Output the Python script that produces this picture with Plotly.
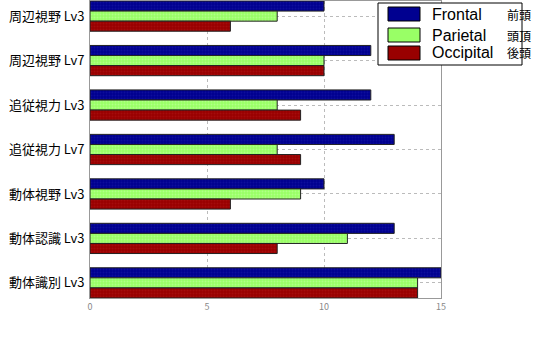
import plotly.graph_objects as go

categories = ["周辺視野 Lv3", "周辺視野 Lv7", "追従視力 Lv3", "追従視力 Lv7",
              "動体視野 Lv3", "動体認識 Lv3", "動体識別 Lv3"]
frontal = [10, 12, 12, 13, 10, 13, 15]
parietal = [8, 10, 8, 8, 9, 11, 14]
occipital = [6, 10, 9, 9, 6, 8, 14]
series_names = ["Frontal", "Parietal", "Occipital"]
series_jp = ["前頭", "頭頂", "後頭"]
colors = ["#000090", "#99FF66", "#990000"]
pattern_colors = ["#1a1aa8", "#c8ffa8", "#b01818"]
x_ticks = [0, 5, 10, 15]

FONT = "Noto Sans CJK JP"
LATIN = "Liberation Sans"

fig = go.Figure()
for name, vals, col, pc in zip(series_names, [frontal, parietal, occipital], colors, pattern_colors):
    fig.add_trace(go.Bar(
        y=categories, x=vals, name=name, orientation="h",
        marker=dict(color=col, line=dict(color="#222222", width=1),
                    pattern=dict(shape=".", fgcolor=pc, size=3, solidity=0.3)),
        showlegend=False,
    ))

fig.update_layout(
    width=538, height=338,
    margin=dict(l=90, r=97, t=1, b=40),
    paper_bgcolor="white", plot_bgcolor="white",
    barmode="group", bargap=0.32, bargroupgap=0,
    font=dict(family=FONT),
)
fig.update_xaxes(range=[0, 15], tickvals=x_ticks, showgrid=True,
                 gridcolor="#bbbbbb", griddash="dot", gridwidth=1,
                 zeroline=False, showline=True, linecolor="#999999", mirror=True,
                 ticks="", tickfont=dict(size=9, color="#888888"))
fig.update_yaxes(range=[6.34, -0.34], showgrid=True, gridcolor="#bbbbbb",
                 griddash="dot", showline=True, linecolor="#999999", mirror=True,
                 ticks="", tickfont=dict(size=13, color="black"), ticklabelstandoff=2)

# custom legend
def px2x(px):
    return (px - 90) / 351.0

def px2y(py):
    return (298 - py) / 297.0

fig.add_shape(type="rect", xref="paper", yref="paper",
              x0=px2x(378), x1=px2x(522), y0=px2y(65), y1=px2y(3),
              line=dict(color="black", width=1), fillcolor="white", layer="above")
rows = [(7, 21), (28, 42), (46, 60)]
for (y0, y1), name, jp, col in zip(rows, series_names, series_jp, colors):
    fig.add_shape(type="rect", xref="paper", yref="paper",
                  x0=px2x(388), x1=px2x(420), y0=px2y(y1), y1=px2y(y0),
                  line=dict(color="black", width=1), fillcolor=col, layer="above")
    yc = px2y((y0 + y1) / 2)
    fig.add_annotation(xref="paper", yref="paper", x=px2x(430), y=yc,
                       text=name, showarrow=False, xanchor="left", yanchor="middle",
                       font=dict(size=16, color="black", family=LATIN))
    fig.add_annotation(xref="paper", yref="paper", x=px2x(505), y=yc,
                       text=jp, showarrow=False, xanchor="left", yanchor="middle",
                       font=dict(size=12, color="black", family=FONT))

fig.write_html("out.html")
